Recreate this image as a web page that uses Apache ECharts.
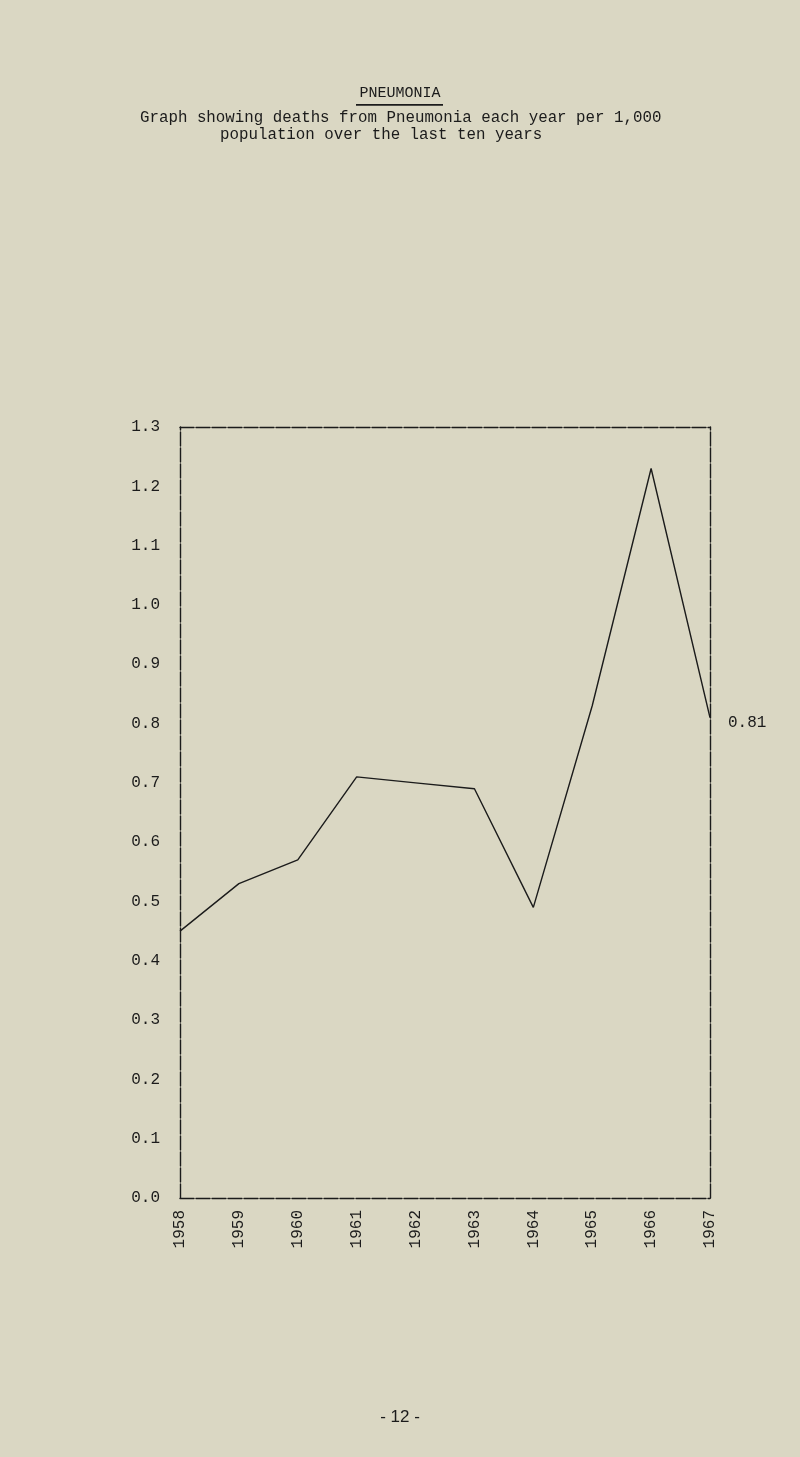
<!DOCTYPE html>
<html><head><meta charset="utf-8">
<script src="https://cdn.jsdelivr.net/npm/echarts@6/dist/echarts.min.js"></script>
<style>html,body{margin:0;padding:0;background:#dad7c3;}#c{width:800px;height:1457px;}</style>
</head><body><div id="c"></div>
<script>
const years = ['1958','1959','1960','1961','1962','1963','1964','1965','1966','1967'];
const deaths = [0.45, 0.53, 0.57, 0.71, 0.70, 0.69, 0.49, 0.83, 1.23, 0.81];
const yMin = 0, yMax = 1.3, yStep = 0.1;
const titleText = 'PNEUMONIA';
const subtitleLine1 = 'Graph showing deaths from Pneumonia each year per 1,000';
const subtitleLine2 = 'population over the last ten years';
const pageNumber = '- 12 -';

const ink = '#1b1b1b';
const mono = '"Liberation Mono", "DejaVu Sans Mono", monospace';
const frame = {show: true, onZero: false, lineStyle: {color: ink, width: 1.4, type: [14, 2]}};
const hidden = {show: false};
const chart = echarts.init(document.getElementById('c'), null, {renderer: 'canvas'});
chart.setOption({
  backgroundColor: '#dad7c3',
  animation: false,
  grid: {left: 180, right: 90, top: 427, bottom: 259},
  xAxis: [{
    type: 'category', data: years, boundaryGap: false, position: 'bottom',
    axisLine: frame, axisTick: hidden, splitLine: hidden,
    axisLabel: {rotate: 90, margin: 12, color: ink, fontFamily: mono, fontSize: 16, interval: 0}
  }, {
    type: 'category', data: years, boundaryGap: false, position: 'top',
    axisLine: frame, axisTick: hidden, splitLine: hidden, axisLabel: hidden
  }],
  yAxis: [{
    type: 'value', min: yMin, max: yMax, interval: yStep, position: 'left',
    axisLine: frame, axisTick: hidden, splitLine: hidden,
    axisLabel: {margin: 20, color: ink, fontFamily: mono, fontSize: 16, padding: [0,0,16,0],
      formatter: v => v.toFixed(1)}
  }, {
    type: 'value', min: yMin, max: yMax, interval: yStep, position: 'right',
    axisLine: frame, axisTick: hidden, splitLine: hidden, axisLabel: hidden
  }],
  series: [{
    type: 'line', data: deaths, symbol: 'none', clip: false,
    lineStyle: {color: ink, width: 1.4},
    endLabel: {show: true, distance: 18, offset: [0, 5], color: ink,
      fontFamily: mono, fontSize: 16, formatter: p => Number(p.value).toFixed(2)}
  }],
  graphic: [
    {type: 'text', left: 'center', top: 86, style: {text: titleText, font: '15px ' + mono, fill: ink}},
    {type: 'rect', shape: {x: 356, y: 104, width: 87, height: 1.8}, style: {fill: ink}},
    {type: 'text', left: 140, top: 110, style: {text: subtitleLine1, font: '15.8px ' + mono, fill: ink}},
    {type: 'text', left: 220, top: 127, style: {text: subtitleLine2, font: '15.8px ' + mono, fill: ink}},
    {type: 'text', left: 'center', top: 1409, style: {text: pageNumber, font: '17px "Liberation Sans", Arial, sans-serif', fill: ink}}
  ]
});
</script></body></html>
